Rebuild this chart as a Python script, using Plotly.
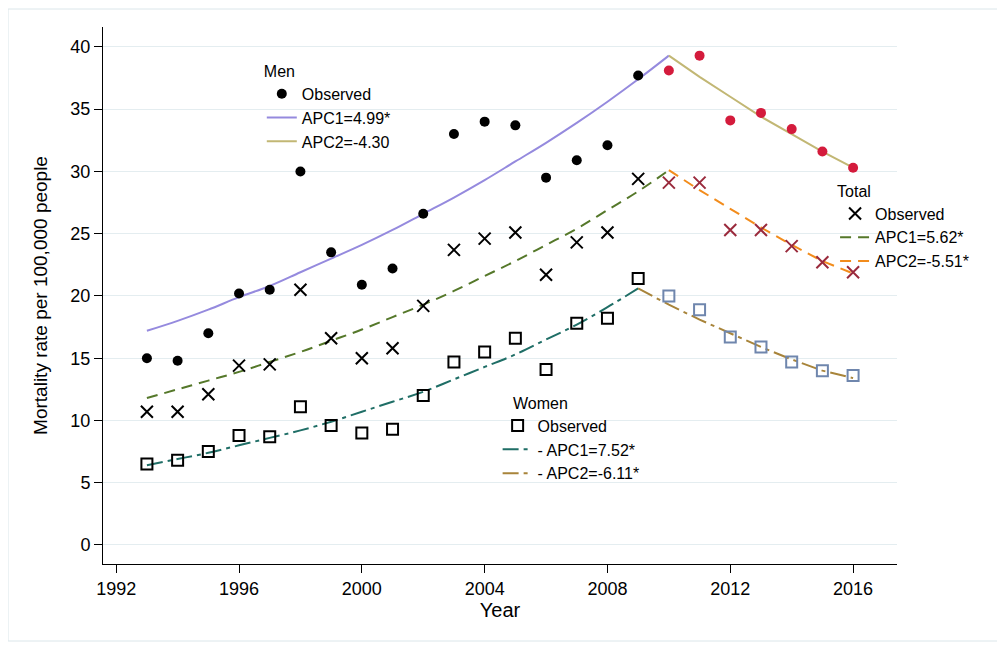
import plotly.graph_objects as go

years = list(range(1993, 2017))

men_obs = [15.0, 14.8, 17.0, 20.2, 20.5, 30.0, 23.5, 20.9, 22.2, 26.6, 33.0, 34.0,
           33.7, 29.5, 30.9, 32.1, 37.7, 38.1, 39.3, 34.1, 34.7, 33.4, 31.6, 30.3]
total_obs = [10.7, 10.7, 12.1, 14.4, 14.5, 20.5, 16.6, 15.0, 15.8, 19.2, 23.7, 24.6,
             25.1, 21.7, 24.3, 25.1, 29.4, 29.1, 29.1, 25.3, 25.3, 24.0, 22.7, 21.9]
women_obs = [6.5, 6.8, 7.5, 8.8, 8.7, 11.1, 9.6, 9.0, 9.3, 12.0, 14.7, 15.5,
             16.6, 14.1, 17.8, 18.2, 21.4, 20.0, 18.9, 16.7, 15.9, 14.7, 14.0, 13.6]

# joinpoint fitted values
men_fit1_years = list(range(1993, 2011))
men_fit1 = [17.2, 18.0, 18.9, 19.9, 20.8, 21.9, 23.0, 24.1, 25.3, 26.6, 27.9, 29.3,
            30.8, 32.3, 33.9, 35.6, 37.4, 39.3]
men_fit2_years = list(range(2010, 2017))
men_fit2 = [39.3, 37.6, 36.0, 34.4, 33.0, 31.6, 30.3]

total_fit1_years = list(range(1993, 2011))
total_fit1 = [11.8, 12.5, 13.2, 13.9, 14.7, 15.5, 16.4, 17.3, 18.3, 19.3, 20.4, 21.6,
              22.8, 24.1, 25.4, 26.9, 28.4, 30.1]
total_fit2_years = list(range(2010, 2017))
total_fit2 = [30.1, 28.5, 27.0, 25.5, 24.1, 22.8, 21.8]

women_fit1_years = list(range(1993, 2010))
women_fit1 = [6.4, 6.9, 7.4, 8.0, 8.6, 9.2, 9.9, 10.7, 11.5, 12.3, 13.3, 14.3,
              15.3, 16.5, 17.7, 19.1, 20.6]
women_fit2_years = list(range(2009, 2017))
women_fit2 = [20.6, 19.3, 18.1, 17.0, 15.9, 14.9, 14.0, 13.4]

x_ticks = [1992, 1996, 2000, 2004, 2008, 2012, 2016]
y_ticks = [0, 5, 10, 15, 20, 25, 30, 35, 40]

split_year = 2010
pre = [i for i, y in enumerate(years) if y < split_year]
post = [i for i, y in enumerate(years) if y >= split_year]

def sel(lst, idx):
    return [lst[i] for i in idx]

fig = go.Figure()

# Fitted lines
fig.add_trace(go.Scatter(x=men_fit1_years, y=men_fit1, mode="lines", name="APC1=4.99*",
                         line=dict(color="#958ade", width=2, shape="spline"),
                         legend="legend", legendrank=2))
fig.add_trace(go.Scatter(x=men_fit2_years, y=men_fit2, mode="lines", name="APC2=-4.30",
                         line=dict(color="#c2b774", width=2),
                         legend="legend", legendrank=3))
fig.add_trace(go.Scatter(x=total_fit1_years, y=total_fit1, mode="lines", name="APC1=5.62*",
                         line=dict(color="#55782a", width=2, dash="11px,7px", shape="spline"),
                         legend="legend2", legendrank=2))
fig.add_trace(go.Scatter(x=total_fit2_years, y=total_fit2, mode="lines", name="APC2=-5.51*",
                         line=dict(color="#f28c1c", width=2, dash="11px,7px"),
                         legend="legend2", legendrank=3))
fig.add_trace(go.Scatter(x=women_fit1_years, y=women_fit1, mode="lines", name="- APC1=7.52*",
                         line=dict(color="#1f6e66", width=2, dash="16px,5px,4px,5px", shape="spline"),
                         legend="legend3", legendrank=2))
fig.add_trace(go.Scatter(x=women_fit2_years, y=women_fit2, mode="lines", name="- APC2=-6.11*",
                         line=dict(color="#a8843a", width=2, dash="16px,5px,4px,5px"),
                         legend="legend3", legendrank=3))

# Observed markers
fig.add_trace(go.Scatter(x=sel(years, pre), y=sel(men_obs, pre), mode="markers", name="Observed",
                         marker=dict(symbol="circle", size=10, color="black"),
                         legend="legend", legendrank=1))
fig.add_trace(go.Scatter(x=sel(years, post), y=sel(men_obs, post), mode="markers", showlegend=False,
                         marker=dict(symbol="circle", size=10, color="#d41b3c")))
fig.add_trace(go.Scatter(x=sel(years, pre), y=sel(total_obs, pre), mode="markers", name="Observed",
                         marker=dict(symbol="x-thin", size=12, color="black",
                                     line=dict(color="black", width=2)),
                         legend="legend2", legendrank=1))
fig.add_trace(go.Scatter(x=sel(years, post), y=sel(total_obs, post), mode="markers", showlegend=False,
                         marker=dict(symbol="x-thin", size=12, color="#9a2a3c",
                                     line=dict(color="#9a2a3c", width=2))))
fig.add_trace(go.Scatter(x=sel(years, pre), y=sel(women_obs, pre), mode="markers", name="Observed",
                         marker=dict(symbol="square-open", size=11, color="black",
                                     line=dict(color="black", width=2)),
                         legend="legend3", legendrank=1))
fig.add_trace(go.Scatter(x=sel(years, post), y=sel(women_obs, post), mode="markers", showlegend=False,
                         marker=dict(symbol="square-open", size=11, color="#6f86ad",
                                     line=dict(color="#6f86ad", width=2))))

font_main = "Liberation Sans, Arial, sans-serif"
leg_common = dict(bgcolor="rgba(0,0,0,0)", font=dict(size=16, color="black", family=font_main),
                  xanchor="left", yanchor="top", itemwidth=30, tracegroupgap=0,
                  traceorder="normal", itemclick=False)

fig.update_layout(
    width=1005, height=645,
    margin=dict(l=95, r=116, t=19, b=89),
    paper_bgcolor="white", plot_bgcolor="white",
    font=dict(family=font_main, color="black"),
    showlegend=True,
    legend=dict(**leg_common, x=0.2, y=0.946,
                title=dict(text="Men", font=dict(size=16, family=font_main))),
    legend2=dict(**leg_common, x=0.922, y=0.723,
                 title=dict(text="Total", font=dict(size=16, family=font_main))),
    legend3=dict(**leg_common, x=0.497, y=0.328,
                 title=dict(text="\u00a0\u00a0\u00a0Women", font=dict(size=16, family=font_main))),
    xaxis=dict(range=[1991.57, 2017.43], tickmode="array", tickvals=x_ticks,
               ticktext=[str(v) for v in x_ticks],
               ticks="outside", ticklen=8, tickcolor="black", showline=True, linecolor="black",
               linewidth=1, showgrid=False, zeroline=False,
               tickfont=dict(size=18, family="Liberation Sans Narrow, Arial Narrow, Liberation Sans, sans-serif"),
               title=dict(text="Year", font=dict(size=20), standoff=3)),
    yaxis=dict(range=[-1.53, 41.6], tickmode="array", tickvals=y_ticks,
               ticks="outside", ticklen=8, tickcolor="black", showline=True, linecolor="black",
               linewidth=1, showgrid=True, gridcolor="#e4edf0", gridwidth=1, zeroline=False,
               tickfont=dict(size=18),
               title=dict(text="Mortality rate per 100,000 people", font=dict(size=19), standoff=17)),
    shapes=[dict(type="rect", xref="paper", yref="paper",
                 x0=-0.1196, x1=1.1285, y0=-0.1434, y1=1.0335,
                 line=dict(color="#dbe6ea", width=1), fillcolor="rgba(0,0,0,0)", layer="below")],
)

fig.write_html("out.html")
